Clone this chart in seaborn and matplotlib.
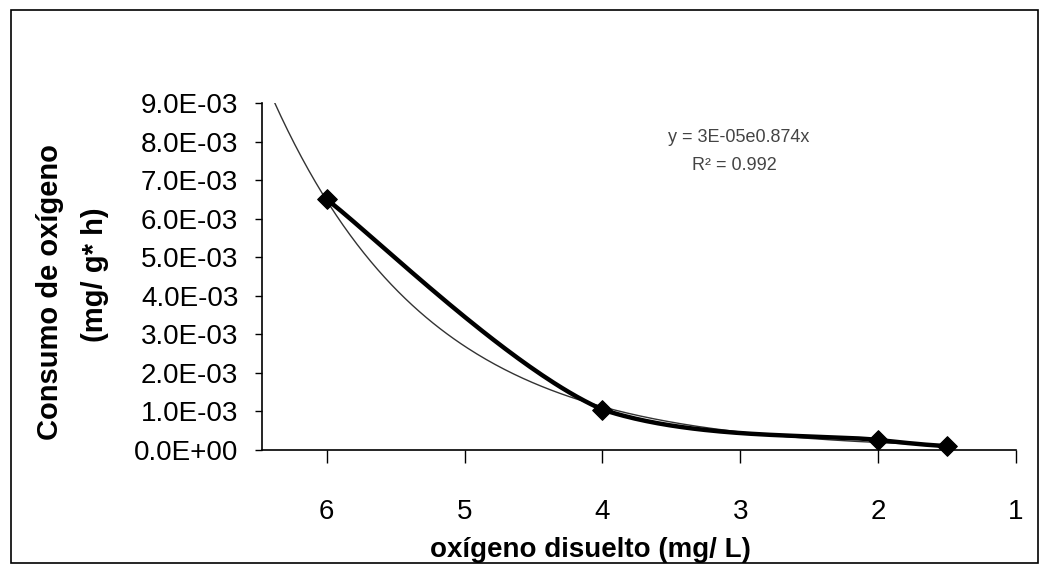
import numpy as np
import pandas as pd
import matplotlib
matplotlib.use("Agg")
import matplotlib.pyplot as plt
import seaborn as sns
from matplotlib.patches import Rectangle
from matplotlib.ticker import FuncFormatter

# data
oxigeno = [6.0, 4.0, 2.0, 1.5]                 # mg/L
consumo = [6.5e-3, 1.05e-3, 2.6e-4, 1.0e-4]    # mg/g* h
x_ticks = [6, 5, 4, 3, 2, 1]
y_ticks = [0, 1e-3, 2e-3, 3e-3, 4e-3, 5e-3, 6e-3, 7e-3, 8e-3, 9e-3]

sns.set_theme(style="white")
plt.rcParams['font.family'] = ['Liberation Sans', 'DejaVu Sans']

df = pd.DataFrame({"x": oxigeno, "y": consumo})

fig = plt.figure(figsize=(10.42, 5.69), dpi=100)
ax = fig.add_axes([0.2514, 0.2091, 0.7236, 0.6098])

xlim = (6.47, 1.0)
ylim = (0, 9e-3)
ax.set_xlim(*xlim)
ax.set_ylim(*ylim)

# exponential trendline fitted on the points
b, ln_a = np.polyfit(df["x"], np.log(df["y"]), 1)
a = np.exp(ln_a)
xt = np.linspace(1.5, 6.5, 300)
trend = pd.DataFrame({"x": xt, "y": a * np.exp(b * xt)})
sns.lineplot(data=trend, x="x", y="y", ax=ax, color="#333333", lw=1.0,
             sort=False, estimator=None)

# smoothed line (Excel style bezier) in screen-normalised space,
# control points kept inside each segment's y range so it stays monotone
W = abs(xlim[1] - xlim[0])
H = ylim[1] - ylim[0]
sx, sy = 7.54, 3.47
P = np.column_stack([(xlim[0] - df["x"]) / W * sx, df["y"] / H * sy])
Pe = np.vstack([P[0], P, P[-1]])
curve = []
t = np.linspace(0, 1, 80)[:, None]
for i in range(len(P) - 1):
    p0, p1, p2, p3 = Pe[i], Pe[i + 1], Pe[i + 2], Pe[i + 3]
    c1 = p1 + (p2 - p0) / 6
    c2 = p2 - (p3 - p1) / 6
    lo, hi = min(p1[1], p2[1]), max(p1[1], p2[1])
    c1[1] = np.clip(c1[1], lo, hi)
    c2[1] = np.clip(c2[1], lo, hi)
    seg = ((1 - t) ** 3) * p1 + 3 * ((1 - t) ** 2) * t * c1 + 3 * (1 - t) * t ** 2 * c2 + t ** 3 * p2
    curve.append(seg)
curve = np.vstack(curve)
smooth = pd.DataFrame({"x": xlim[0] - curve[:, 0] / sx * W, "y": curve[:, 1] / sy * H})
sns.lineplot(data=smooth, x="x", y="y", ax=ax, color="black", lw=3.2,
             sort=False, estimator=None)

sns.scatterplot(data=df, x="x", y="y", ax=ax, marker="D", s=100, color="black",
                edgecolor="black", zorder=5, clip_on=False)

# axes look
for s in ["top", "right"]:
    ax.spines[s].set_visible(False)
for s in ["left", "bottom"]:
    ax.spines[s].set_color("black")
    ax.spines[s].set_linewidth(1.2)

ax.set_xticks(x_ticks)
ax.set_yticks(y_ticks)
ax.yaxis.set_major_formatter(FuncFormatter(
    lambda v, p: "0.0E+00" if v == 0 else f"{v:.1E}"))
ax.tick_params(axis="y", direction="out", length=5, width=1, colors="black",
               labelsize=20, pad=12, left=True)
ax.tick_params(axis="x", direction="out", length=9, width=1, colors="black",
               labelsize=20, pad=26, bottom=True)
ax.set_xlabel("")
ax.set_ylabel("")

# axis titles
fig.text(0.5662, 0.033, "oxígeno disuelto (mg/ L)", ha="center", va="center",
         fontsize=20, fontweight="bold", color="black")
fig.text(0.048, 0.487, "Consumo de oxígeno", rotation=90, ha="center", va="center",
         fontsize=21, fontweight="bold", color="black")
fig.text(0.091, 0.517, "(mg/ g* h)", rotation=90, ha="center", va="center",
         fontsize=21, fontweight="bold", color="black")

# trendline label
fig.text(0.709, 0.7575, "y = 3E-05e0.874x", ha="center", va="center",
         fontsize=13, color="#444444")
fig.text(0.705, 0.710, "R² = 0.992", ha="center", va="center",
         fontsize=13, color="#444444")

# chart border
fig.patches.append(Rectangle((0.011, 0.010), 0.985, 0.972, transform=fig.transFigure,
                             fill=False, edgecolor="black", lw=1.2))

fig.savefig("out.png", dpi=100, facecolor="white")
